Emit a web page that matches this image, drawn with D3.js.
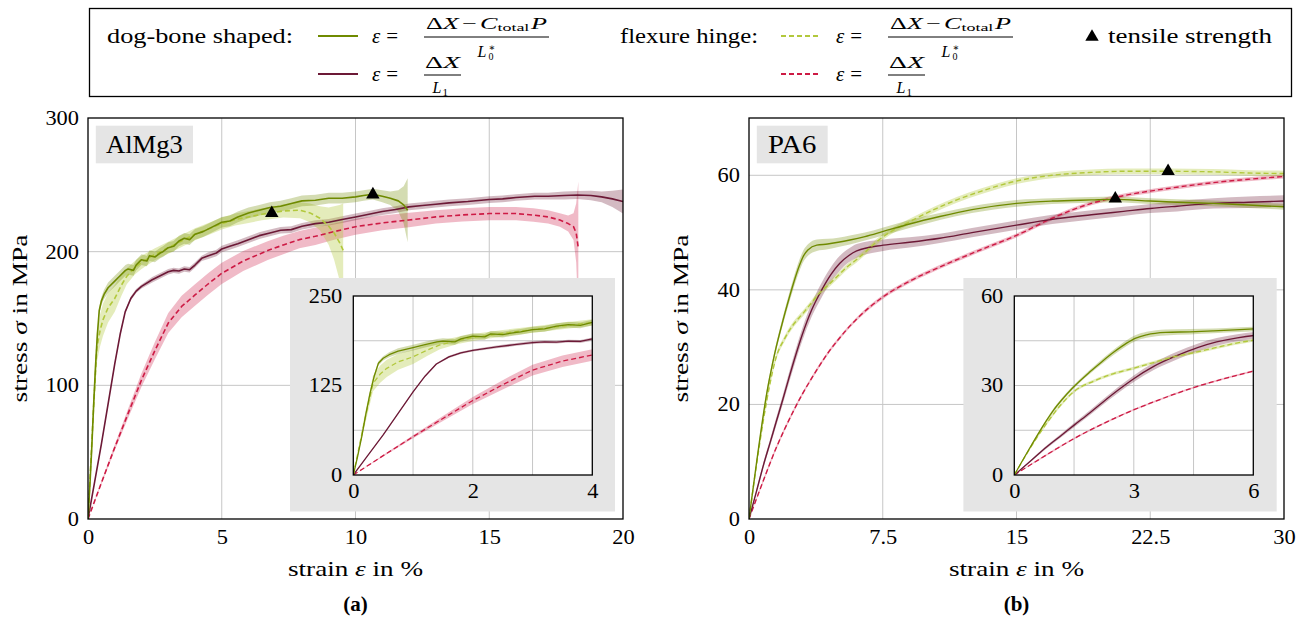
<!DOCTYPE html>
<html>
<head>
<meta charset="utf-8">
<script src="https://cdn.jsdelivr.net/npm/d3@7"></script>
<style>
  body { margin: 0; background: #fff; }
  svg text { font-family: "Liberation Serif", "DejaVu Serif", serif; fill: #000; }
</style>
</head>
<body>
<svg id="fig" width="1305" height="618"></svg>
<script>
// ================= AlMg3 : strain in %, stress in MPa =================
// dog-bone specimen, strain from (dX - C_total P) / L0*
const alDogCpEps    = [0,0.07,0.14,0.21,0.28,0.35,0.42,0.5,0.6,0.75,1.0,1.2,1.4,1.5,1.7,1.8,2.0,2.2,2.3,2.5,2.7,2.8,3.0,3.2,3.4,3.6,3.8,4.0,4.3,4.6,5.0,5.3,5.6,6.0,6.4,6.8,7.2,7.6,8.0,8.5,9.0,9.5,10.0,10.3,10.65,11.0,11.3,11.6,11.8,11.95];
const alDogCpSig    = [0,25,53,85,114,138,156,163,168,173,178,182,186,187,186,190,194,193,197,196,199,200,203,204,208,210,209,213,215,218,222,223,226,229,231,233,234,236,238,238.5,240,240,241,242,243,241.5,240,238,235,231];
const alDogCpSpread = [0,1,2,3,3,3,3,3,3.5,4,4,4,4,4,4,4,4,4,4,4,4,4,4,4,4,4,4,4,4,4,4,4,4,4,4,4,4,4,4,4,4,4,4,4,4,4.5,5,8,14,24];

// flexure hinge specimen, strain from (dX - C_total P) / L0*
const alHingeCpEps    = [0,0.1,0.2,0.33,0.45,0.56,0.75,1.0,1.25,1.45,1.75,2.0,2.5,3.0,3.5,4.0,4.5,5.0,5.5,6.0,6.5,6.87,7.3,7.93,8.3,8.67,9.0,9.2,9.4,9.54];
const alHingeCpSig    = [0,40,80,128,141,149,158,165,175,181.6,188,192,198,203,208,213,217,221,224,226,228,229,230.5,231,229,225,219,214,207,201];
const alHingeCpSpread = [0,4,8,11,12,12,11,10,8,6,5,5,4.5,4.5,4.5,4.5,4.5,4.5,4.5,4.5,4.5,4.5,5,6,7,9,14,20,28,35];

// dog-bone specimen, strain from dX / L1
const alDogL1Eps    = [0,0.25,0.5,0.75,1.0,1.2,1.39,1.6,1.8,2.0,2.4,2.7,3.0,3.2,3.4,3.6,3.8,4.0,4.25,4.5,4.8,5.0,5.3,5.6,6.0,6.4,6.8,7.2,7.6,8.0,8.5,9.0,9.5,10.0,10.5,11.0,11.5,12.0,12.5,13.0,13.5,14.2,15.0,15.5,16.0,16.7,17.2,17.8,18.3,18.8,19.2,19.6,20.0];
const alDogL1Sig    = [0,28,56,86,116,138,155,165,170.5,174,179,182,185,186,185.5,187,186.5,190,195,197,199,202,204,206,209,212,214,216,216.5,219,221,222,224,226,228,230,231.5,233.5,234.5,235.5,236.5,237.5,239,239.5,240.5,241.5,241.5,242,242.4,242,241,239.5,237.5];
const alDogL1Spread = [0,0.5,1,1,1,1,1,1.5,1.5,1.5,2,2,2,2,2,2,2,2,2,2.5,2.5,2.5,2.5,2.5,2.5,2.5,2.5,2.5,2.5,2.5,2.5,2.5,2.5,2.5,2.5,2.5,2.5,2.5,2.5,2.5,2.5,2.5,2.5,2.5,2.5,2.5,2.5,3,3,3.5,4,6,9];

// flexure hinge specimen, strain from dX / L1
const alHingeL1Eps    = [0,0.5,1.0,1.5,2.0,2.5,3.0,3.5,4.0,4.5,5.0,5.8,6.74,7.3,7.9,8.5,9.2,10.0,11.0,12.0,13.0,14.0,15.0,16.0,16.65,17.2,17.64,17.95,18.15,18.25,18.33];
const alHingeL1Sig    = [0,27,53.5,79,104,126,146.6,159,167.6,176,183.8,193,201,205,209,211.5,215,218.7,221.5,223.7,226,227.5,228.5,228.5,227.4,226,223.7,221,218.7,214,202.5];
const alHingeL1Spread = [0,1,2,3.5,5,6.5,7.5,8,8,8,8,7.5,7,7,6.5,6.5,6,6,5.5,5.5,5,5,5,5,5,5,5,6,10,22,50];

// tensile strength markers
const alTensileEps = [10.65, 6.87];
const alTensileSig = [243.5, 229.5];

const alXTicks = [0, 5, 10, 15, 20];
const alYTicks = [0, 100, 200, 300];
const alInsetXTicks = [0, 2, 4];
const alInsetYTicks = [0, 125, 250];
const alInsetXGrid = [1, 2, 3];
const alInsetYGrid = [62.5, 125, 187.5];

// ================= PA6 : strain in %, stress in MPa =================
const paDogCpEps    = [0,0.4,0.81,1.0,1.2,1.45,1.9,2.2,2.5,2.82,3.05,3.32,3.8,4.41,5.0,5.66,6.5,7.53,9.0,10.7,12.5,15.0,17.0,19.2,20.5,22.5,24.0,26.0,28.0,30.0];
const paDogCpSig    = [0,9.3,18.3,22,25.3,29,34.6,38,41.2,44.2,45.9,47.0,47.8,48.0,48.3,48.7,49.3,50.2,51.5,52.8,54.0,55.1,55.5,55.7,55.8,55.5,55.3,55.1,54.8,54.5];
const paDogCpSpread = [0,0.4,0.5,0.6,0.6,0.6,0.7,0.8,0.9,1.0,1.0,1.0,1.0,0.9,0.8,0.8,0.7,0.7,0.7,0.6,0.6,0.6,0.5,0.5,0.5,0.5,0.5,0.5,0.5,0.5];

const paHingeCpEps    = [0,0.4,0.81,1.2,1.5,2.0,2.5,3.0,3.5,4.0,4.5,5.0,5.5,6.0,7.53,9.2,10.5,11.65,13.0,15.0,17.0,19.2,21.0,23.5,26.0,28.0,30.0];
const paHingeCpSig    = [0,9,17.3,24,28,31.5,34,35.8,37.7,39.6,41,42.5,44,45.2,49.3,52.2,54.2,55.7,57.2,59,60,60.5,60.7,60.7,60.6,60.4,60.3];
const paHingeCpSpread = [0,0.3,0.5,0.5,0.5,0.5,0.5,0.5,0.5,0.5,0.5,0.5,0.5,0.5,0.5,0.5,0.5,0.5,0.5,0.5,0.5,0.5,0.5,0.5,0.5,0.5,0.5];

const paDogL1Eps    = [0,0.4,0.81,1.2,1.51,1.9,2.23,2.6,2.99,3.5,4.08,4.6,5.08,5.6,6.04,7.53,9.0,10.7,12.5,15.0,17.0,19.2,21.0,22.5,24.0,26.05,28.0,30.0];
const paDogL1Sig    = [0,4.6,9.4,13.5,16.8,20.9,24.5,28.4,32.2,36.4,40,42.7,44.6,46,46.8,47.8,48.3,49,50,51.3,52.3,53.1,53.7,54.2,54.6,55.1,55.3,55.5];
const paDogL1Spread = [0,0.3,0.5,0.6,0.7,0.8,0.9,1.0,1.1,1.2,1.3,1.3,1.3,1.2,1.2,1.0,0.9,0.8,0.8,0.8,0.8,0.8,0.8,0.8,0.9,0.9,1.0,1.0];

const paHingeL1Eps    = [0,0.5,1.0,1.51,2.0,2.5,2.99,3.5,4.0,4.5,5.0,6.0,7.53,9.0,11.08,13.0,15.0,17.0,19.2,21.1,23.5,26.0,28.0,30.0];
const paHingeL1Sig    = [0,4.2,8.3,12.3,15.7,18.9,21.8,24.5,27,29.3,31.3,34.8,38.8,41.5,44.5,47,49.5,52.5,55.1,56.5,57.7,58.7,59.3,59.8];
const paHingeL1Spread = [0,0.2,0.3,0.3,0.3,0.3,0.3,0.3,0.3,0.3,0.3,0.3,0.35,0.35,0.35,0.35,0.35,0.35,0.35,0.35,0.35,0.35,0.35,0.35];

const paTensileEps = [20.54, 23.5];
const paTensileSig = [56.1, 60.9];

const paXTicks = [0, 7.5, 15, 22.5, 30];
const paYTicks = [0, 20, 40, 60];
const paInsetXTicks = [0, 3, 6];
const paInsetYTicks = [0, 30, 60];
const paInsetXGrid = [1.5, 3, 4.5];
const paInsetYGrid = [15, 30, 45];

// ================= styles =================
const OLIVE = '#6f8a00', LIME = '#b2c83c', MAROON = '#6c1936', CRIMSON = '#cd1a44';
const styles = {
  dogCp:   { color: OLIVE,   dash: null,  band: 'rgba(112,138,0,0.30)' },
  hingeCp: { color: LIME,    dash: '5,3', band: 'rgba(178,200,60,0.35)' },
  dogL1:   { color: MAROON,  dash: null,  band: 'rgba(108,25,54,0.30)' },
  hingeL1: { color: CRIMSON, dash: '5,3', band: 'rgba(205,26,68,0.30)' }
};
const SX = 1.12;          // horizontal widening of numerals
const TICK_FS = 20;
const GRID = '#c6c6c6';

const rows = (e, s, sp) => e.map((v, i) => ({ e: v, s: s[i], sp: sp[i] }));

const alSeries = [
  { key: 'hingeL1', data: rows(alHingeL1Eps, alHingeL1Sig, alHingeL1Spread) },
  { key: 'dogL1',   data: rows(alDogL1Eps,   alDogL1Sig,   alDogL1Spread) },
  { key: 'hingeCp', data: rows(alHingeCpEps, alHingeCpSig, alHingeCpSpread) },
  { key: 'dogCp',   data: rows(alDogCpEps,   alDogCpSig,   alDogCpSpread) }
];
const paSeries = [
  { key: 'hingeL1', data: rows(paHingeL1Eps, paHingeL1Sig, paHingeL1Spread) },
  { key: 'dogL1',   data: rows(paDogL1Eps,   paDogL1Sig,   paDogL1Spread) },
  { key: 'hingeCp', data: rows(paHingeCpEps, paHingeCpSig, paHingeCpSpread) },
  { key: 'dogCp',   data: rows(paDogCpEps,   paDogCpSig,   paDogCpSpread) }
];

const svg = d3.select('#fig');
const defs = svg.append('defs');
let clipCount = 0;
function clipRect(x0, y0, x1, y1) {
  const id = 'clip' + (clipCount++);
  defs.append('clipPath').attr('id', id).append('rect')
    .attr('x', x0).attr('y', y0).attr('width', x1 - x0).attr('height', y1 - y0);
  return `url(#${id})`;
}

function drawCurves(g, x, y, series, curve, lw) {
  const area = d3.area().x(d => x(d.e)).y0(d => y(d.s - d.sp)).y1(d => y(d.s + d.sp)).curve(curve);
  const line = d3.line().x(d => x(d.e)).y(d => y(d.s)).curve(curve);
  series.forEach(s => {
    g.append('path').attr('d', area(s.data)).attr('fill', styles[s.key].band).attr('stroke', 'none');
  });
  series.forEach(s => {
    g.append('path').attr('d', line(s.data)).attr('fill', 'none')
      .attr('stroke', styles[s.key].color).attr('stroke-width', lw)
      .attr('stroke-dasharray', styles[s.key].dash).attr('stroke-linejoin', 'round');
  });
}

function drawGrid(g, x, y, xs, ys, box) {
  xs.forEach(v => g.append('line').attr('x1', x(v)).attr('x2', x(v)).attr('y1', box.top).attr('y2', box.bottom)
    .attr('stroke', GRID).attr('stroke-width', 1));
  ys.forEach(v => g.append('line').attr('y1', y(v)).attr('y2', y(v)).attr('x1', box.left).attr('x2', box.right)
    .attr('stroke', GRID).attr('stroke-width', 1));
}

function styleAxis(ax, side, pad) {
  ax.attr('font-family', null);
  ax.select('.domain').remove();
  ax.selectAll('.tick line').remove();
  ax.selectAll('text').attr('font-size', TICK_FS);
  if (side === 'left') ax.selectAll('text').attr('x', -pad / SX).attr('transform', `scale(${SX},1)`);
  else ax.selectAll('text').attr('transform', `scale(${SX},1)`);
}

function drawPanel(p) {
  const g = svg.append('g');
  const x = d3.scaleLinear().domain(p.xDomain).range([p.left, p.right]);
  const y = d3.scaleLinear().domain(p.yDomain).range([p.bottom, p.top]);
  const box = { left: p.left, right: p.right, top: p.top, bottom: p.bottom };

  drawGrid(g, x, y, p.xGrid, p.yGrid, box);
  const cg = g.append('g').attr('clip-path', clipRect(p.left, p.top, p.right, p.bottom));
  drawCurves(cg, x, y, p.series, p.curve, p.lw);

  // tensile strength markers
  const tri = d3.symbol().type(d3.symbolTriangle).size(78);
  p.tensileEps.forEach((e, i) => {
    g.append('path').attr('d', tri()).attr('transform', `translate(${x(e)},${y(p.tensileSig[i]) + 1})`).attr('fill', '#000');
  });

  // axes
  const axB = g.append('g').attr('transform', `translate(0,${p.bottom})`)
    .call(d3.axisBottom(x).tickValues(p.xTicks).tickSize(0).tickPadding(11).tickFormat(d => String(d)));
  styleAxis(axB, 'bottom', 11);
  const axL = g.append('g').attr('transform', `translate(${p.left},0)`)
    .call(d3.axisLeft(y).tickValues(p.yTicks).tickSize(0).tickPadding(9).tickFormat(d => String(d)));
  styleAxis(axL, 'left', 9);

  // inset
  const ins = p.inset;
  g.append('rect').attr('x', ins.bg[0]).attr('y', ins.bg[1]).attr('width', ins.bg[2] - ins.bg[0]).attr('height', ins.bg[3] - ins.bg[1])
    .attr('fill', '#e5e5e5');
  const ix = d3.scaleLinear().domain(ins.xDomain).range([ins.left, ins.right]);
  const iy = d3.scaleLinear().domain(ins.yDomain).range([ins.bottom, ins.top]);
  g.append('rect').attr('x', ins.left).attr('y', ins.top).attr('width', ins.right - ins.left).attr('height', ins.bottom - ins.top).attr('fill', '#fff');
  drawGrid(g, ix, iy, ins.xGrid, ins.yGrid, ins);
  const icg = g.append('g').attr('clip-path', clipRect(ins.left, ins.top, ins.right, ins.bottom));
  drawCurves(icg, ix, iy, p.series, p.curve, 1.3);
  g.append('rect').attr('x', ins.left).attr('y', ins.top).attr('width', ins.right - ins.left).attr('height', ins.bottom - ins.top)
    .attr('fill', 'none').attr('stroke', '#000').attr('stroke-width', 1.3);
  const iaB = g.append('g').attr('transform', `translate(0,${ins.bottom})`)
    .call(d3.axisBottom(ix).tickValues(ins.xTicks).tickSize(0).tickPadding(9).tickFormat(d => String(d)));
  styleAxis(iaB, 'bottom', 9);
  const iaL = g.append('g').attr('transform', `translate(${ins.left},0)`)
    .call(d3.axisLeft(iy).tickValues(ins.yTicks).tickSize(0).tickPadding(11).tickFormat(d => String(d)));
  styleAxis(iaL, 'left', 11);

  // frame
  g.append('rect').attr('x', p.left).attr('y', p.top).attr('width', p.right - p.left).attr('height', p.bottom - p.top)
    .attr('fill', 'none').attr('stroke', '#000').attr('stroke-width', 1.3);

  // material tag
  const lb = p.labelBox;
  g.append('rect').attr('x', lb[0]).attr('y', lb[1]).attr('width', lb[2] - lb[0]).attr('height', lb[3] - lb[1]).attr('fill', '#e5e5e5');
  g.append('text').attr('x', (lb[0] + lb[2]) / 2).attr('y', lb[3] - 10).attr('text-anchor', 'middle')
    .attr('font-size', 26).attr('textLength', p.labelWidth).attr('lengthAdjust', 'spacingAndGlyphs').text(p.label);

  // axis titles
  const cx = (p.left + p.right) / 2, cy = (p.top + p.bottom) / 2;
  const xt = g.append('text').attr('x', cx).attr('y', 576).attr('text-anchor', 'middle').attr('font-size', 21)
    .attr('textLength', 135).attr('lengthAdjust', 'spacingAndGlyphs');
  xt.append('tspan').text('strain ');
  xt.append('tspan').attr('font-style', 'italic').text('ε');
  xt.append('tspan').text(' in %');
  const yt = g.append('text').attr('transform', `translate(${p.left - 61},${cy}) rotate(-90)`).attr('text-anchor', 'middle')
    .attr('font-size', 21).attr('textLength', 168).attr('lengthAdjust', 'spacingAndGlyphs');
  yt.append('tspan').text('stress ');
  yt.append('tspan').attr('font-style', 'italic').text('σ');
  yt.append('tspan').text(' in MPa');

  g.append('text').attr('x', cx).attr('y', 611).attr('text-anchor', 'middle').attr('font-size', 21)
    .attr('font-weight', 'bold').text(p.caption);
}

drawPanel({
  left: 88, right: 623, top: 118, bottom: 519,
  xDomain: [0, 20], yDomain: [0, 300],
  xTicks: alXTicks, yTicks: alYTicks, xGrid: [5, 10, 15], yGrid: [100, 200],
  series: alSeries, curve: d3.curveLinear, lw: 1.6,
  tensileEps: alTensileEps, tensileSig: alTensileSig,
  inset: { bg: [290, 278, 615, 511.5], left: 353.3, right: 592.3, top: 296, bottom: 475,
           xDomain: [0, 4], yDomain: [0, 250], xTicks: alInsetXTicks, yTicks: alInsetYTicks,
           xGrid: alInsetXGrid, yGrid: alInsetYGrid },
  labelBox: [95.8, 125.7, 193, 163.3], label: 'AlMg3', labelWidth: 77,
  caption: '(a)'
});

drawPanel({
  left: 749, right: 1284, top: 118, bottom: 519,
  xDomain: [0, 30], yDomain: [0, 70],
  xTicks: paXTicks, yTicks: paYTicks, xGrid: [7.5, 15, 22.5], yGrid: [20, 40, 60],
  series: paSeries, curve: d3.curveMonotoneX, lw: 1.4,
  tensileEps: paTensileEps, tensileSig: paTensileSig,
  inset: { bg: [963.4, 278, 1276.7, 511.5], left: 1014.3, right: 1253.3, top: 296, bottom: 475,
           xDomain: [0, 6], yDomain: [0, 60], xTicks: paInsetXTicks, yTicks: paInsetYTicks,
           xGrid: paInsetXGrid, yGrid: paInsetYGrid },
  labelBox: [756.8, 125.7, 827.7, 163.3], label: 'PA6', labelWidth: 48.5,
  caption: '(b)'
});

// ================= legend =================
const legendGroups = ['dog-bone shaped:', 'flexure hinge:'];
const legendGroupX = [107, 620];
const legendGroupW = [186, 138];
const legendSampleX = [318, 781];
const legendMathX = [372, 836];
const lg = svg.append('g');
lg.append('rect').attr('x', 89.5).attr('y', 8.5).attr('width', 1202).attr('height', 88)
  .attr('fill', 'none').attr('stroke', '#000').attr('stroke-width', 1.3);

function epsEquals(x0, yb) {
  const t = lg.append('text').attr('x', x0).attr('y', yb).attr('font-size', 21);
  t.append('tspan').attr('font-style', 'italic').text('ε');
  t.append('tspan').attr('dx', 6).text('=');
}

function fracCp(x0, bar) {
  const bx0 = x0 + 52, bx1 = x0 + 177, cx = (bx0 + bx1) / 2;
  lg.append('line').attr('x1', bx0).attr('x2', bx1).attr('y1', bar).attr('y2', bar).attr('stroke', '#000').attr('stroke-width', 1);
  const n = lg.append('text').attr('x', cx).attr('y', bar - 8).attr('text-anchor', 'middle').attr('font-size', 16)
    .attr('textLength', 121).attr('lengthAdjust', 'spacingAndGlyphs');
  n.append('tspan').text('Δ');
  n.append('tspan').attr('font-style', 'italic').text('X');
  n.append('tspan').attr('dx', 2).text('−');
  n.append('tspan').attr('dx', 2).attr('font-style', 'italic').text('C');
  n.append('tspan').attr('font-size', 11).attr('dy', 2).text('total');
  n.append('tspan').attr('dy', -2).attr('dx', 1).attr('font-style', 'italic').text('P');
  // denominator: L with stacked * and 0
  const d = lg.append('text').attr('x', cx - 9).attr('y', bar + 20).attr('font-size', 16);
  d.append('tspan').attr('font-style', 'italic').text('L');
  const dx0 = cx - 9 + 11;
  lg.append('text').attr('x', dx0).attr('y', bar + 14).attr('font-size', 10).text('∗');
  lg.append('text').attr('x', dx0).attr('y', bar + 23).attr('font-size', 10).text('0');
}

function fracL1(x0, bar) {
  const bx0 = x0 + 52, bx1 = x0 + 89, cx = (bx0 + bx1) / 2;
  lg.append('line').attr('x1', bx0).attr('x2', bx1).attr('y1', bar).attr('y2', bar).attr('stroke', '#000').attr('stroke-width', 1);
  const n = lg.append('text').attr('x', cx).attr('y', bar - 7).attr('text-anchor', 'middle').attr('font-size', 16)
    .attr('textLength', 35).attr('lengthAdjust', 'spacingAndGlyphs');
  n.append('tspan').text('Δ');
  n.append('tspan').attr('font-style', 'italic').text('X');
  const d = lg.append('text').attr('x', cx - 10).attr('y', bar + 18).attr('font-size', 16);
  d.append('tspan').attr('font-style', 'italic').text('L');
  d.append('tspan').attr('font-size', 11).attr('dy', 3).attr('dx', 1).text('1');
}

legendGroups.forEach((name, i) => {
  lg.append('text').attr('x', legendGroupX[i]).attr('y', 43).attr('font-size', 21)
    .attr('textLength', legendGroupW[i]).attr('lengthAdjust', 'spacingAndGlyphs').text(name);
  const keys = i === 0 ? ['dogCp', 'dogL1'] : ['hingeCp', 'hingeL1'];
  [36, 74].forEach((yy, r) => {
    const st = styles[keys[r]];
    lg.append('line').attr('x1', legendSampleX[i]).attr('x2', legendSampleX[i] + 40).attr('y1', yy).attr('y2', yy)
      .attr('stroke', st.color).attr('stroke-width', 1.8).attr('stroke-dasharray', st.dash);
    epsEquals(legendMathX[i], yy + 7);
  });
  fracCp(legendMathX[i], 37);
  fracL1(legendMathX[i], 75);
});

lg.append('path').attr('d', d3.symbol().type(d3.symbolTriangle).size(78)())
  .attr('transform', 'translate(1092,37)').attr('fill', '#000');
lg.append('text').attr('x', 1108).attr('y', 43).attr('font-size', 21)
  .attr('textLength', 164).attr('lengthAdjust', 'spacingAndGlyphs').text('tensile strength');
</script>
</body>
</html>
